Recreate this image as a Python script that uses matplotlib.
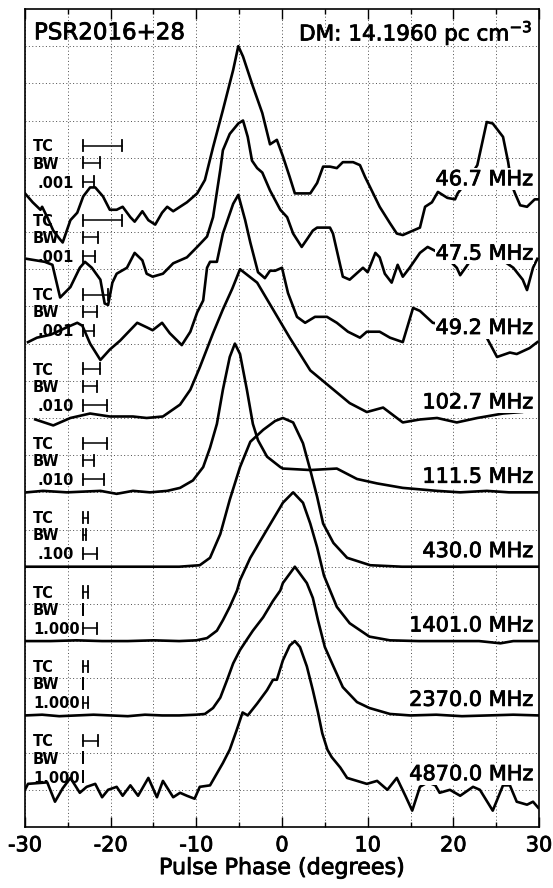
import numpy as np
import matplotlib
matplotlib.use("Agg")
import matplotlib.pyplot as plt
import matplotlib.patheffects as pe
from matplotlib.ticker import MultipleLocator

plt.rcParams['font.family'] = ['DejaVu Sans']
plt.rcParams['mathtext.fontset'] = 'dejavusans'
plt.rcParams['axes.unicode_minus'] = False

# ---- pulse profiles (phase in degrees, amplitude normalised to peak = 1) ----
phase_4870 = [-30, -29.65, -27.4, -26.5, -25.6, -24.7, -23.6, -22.8, -21.8, -21.0,
              -20.3, -19.3, -18.6, -17.7, -16.8, -15.6, -14.6, -13.9, -12.7, -11.9,
              -11.1, -10.2, -9.6, -8.4, -7.5, -6.9, -6.1, -5.3, -4.6, -4.0,
              -2.9, -1.75, -1.05, -0.6, 0.1, 0.9, 1.5, 2.1, 2.9, 3.6,
              4.2, 4.7, 5.3, 5.8, 6.8, 7.6, 8.75, 9.9, 11.1, 12.3,
              13.4, 14.4, 15.2, 16.1, 17.0, 17.9, 18.4, 19.6, 20.8, 22.3,
              23.1, 24.6, 25.8, 26.6, 27.4, 28.6, 29.3, 29.9]
amp_4870 = [0.0, 0.04, 0.05, -0.08, 0.01, 0.08, -0.02, 0.02, 0.04, -0.05,
            0.0, 0.02, -0.04, 0.03, -0.04, 0.08, -0.05, 0.06, -0.05, -0.02,
            -0.04, -0.06, 0.02, 0.03, 0.12, 0.18, 0.27, 0.40, 0.52, 0.50,
            0.58, 0.67, 0.74, 0.74, 0.87, 0.97, 1.0, 0.96, 0.83, 0.67,
            0.52, 0.38, 0.27, 0.22, 0.15, 0.08, 0.06, 0.04, 0.06, 0.0,
            0.08, -0.04, -0.14, 0.02, 0.05, 0.03, -0.02, 0.0, -0.04, 0.02,
            0.0, -0.14, 0.03, 0.03, -0.08, -0.10, -0.08, -0.12]

phase_2370 = [-30, -28, -26, -24, -22, -20, -18, -16, -14, -12,
              -10, -9, -8.05, -7.2, -6.4, -5.7, -4.9, -4.1, -3.4, -2.2,
              -1.05, -0.2, 0.1, 1.5, 2.9, 3.6, 4.2, 5.0, 6.0, 7.1,
              8.75, 10.2, 12.6, 15, 18, 21, 24, 27, 30]
amp_2370 = [0.0, 0.005, -0.005, 0.0, 0.005, 0.0, -0.005, 0.005, 0.0, 0.0,
            0.005, 0.01, 0.05, 0.12, 0.24, 0.35, 0.44, 0.51, 0.57, 0.66,
            0.77, 0.84, 0.89, 1.0, 0.89, 0.79, 0.64, 0.46, 0.33, 0.19,
            0.09, 0.05, 0.01, 0.0, 0.005, -0.005, 0.0, 0.005, 0.0]

phase_1401 = [-30, -27, -24, -21, -18, -15, -12, -10, -8.75, -7.6,
              -6.9, -6.1, -5.25, -4.9, -3.7, -1.75, -0.2, 0.1, 1.3, 2.45,
              3.3, 4.1, 4.9, 6.4, 7.9, 10.2, 12.6, 16, 20, 23,
              25.5, 27, 30]
amp_1401 = [0.0, 0.0, 0.005, 0.0, 0.0, 0.005, 0.0, 0.005, 0.02, 0.07,
            0.14, 0.23, 0.34, 0.41, 0.56, 0.75, 0.90, 0.93, 1.0, 0.93,
            0.79, 0.63, 0.44, 0.23, 0.12, 0.03, 0.005, 0.0, 0.0, 0.0,
            -0.015, 0.0, 0.0]

phase_430 = [-30, -25, -20, -15, -12, -9.6, -8.4, -7.2, -6.1, -4.9,
             -3.7, -2.2, -0.8, 0.1, 1.3, 2.45, 3.3, 4.1, 4.8, 6.0,
             7.6, 10.3, 14, 20, 25, 30]
amp_430 = [0.0, 0.0, 0.0, 0.0, 0.0, 0.01, 0.06, 0.22, 0.45, 0.67,
           0.84, 0.92, 0.98, 1.0, 0.97, 0.83, 0.65, 0.47, 0.29, 0.16,
           0.06, 0.01, 0.0, 0.0, 0.0, 0.0]

phase_111 = [-29.8, -27.9, -25.1, -21.2, -19.3, -17.4, -15.4, -13.4, -11.9, -10.4,
             -9.2, -8.4, -7.6, -6.9, -6.1, -5.5, -4.9, -4.1, -3.4, -2.8,
             -1.75, -0.2, 0.1, 3.3, 6.4, 8.75, 11.1, 14.1, 18.1, 20.8,
             23.9, 26.5, 29.8]
amp_111 = [0.0, 0.01, 0.0, 0.01, -0.01, 0.01, 0.0, 0.01, 0.03, 0.08,
           0.17, 0.30, 0.46, 0.69, 0.91, 1.0, 0.93, 0.69, 0.46, 0.35,
           0.24, 0.17, 0.16, 0.15, 0.16, 0.09, 0.06, 0.03, 0.01, 0.0,
           0.01, 0.0, 0.0]

phase_102 = [-28.8, -26.7, -24.7, -22.4, -20.1, -17.4, -15.8, -13.9, -11.9, -10.7,
             -9.6, -8.05, -6.9, -5.8, -4.9, -2.9, -1.05, 0.9, 3.3, 5.6,
             7.9, 9.9, 11.8, 14.1, 16.1, 18.1, 20.4, 22.8, 25.8, 28.0]
amp_102 = [-0.01, -0.05, 0.0, 0.03, 0.01, 0.01, 0.0, 0.01, 0.09, 0.19,
           0.34, 0.57, 0.73, 0.87, 1.0, 0.91, 0.73, 0.54, 0.32, 0.21,
           0.10, 0.04, 0.07, -0.03, -0.01, 0.0, -0.03, 0.0, 0.03, 0.04]

phase_49 = [-29.65, -28.6, -27.0, -25.1, -23.9, -23.3, -22.4, -21.2, -20.1, -18.9,
            -16.9, -15.8, -15.1, -14.0, -13.1, -11.7, -10.7, -9.9, -9.2, -8.75,
            -8.4, -7.6, -6.9, -5.7, -5.1, -4.3, -3.7, -2.8, -2.0, -1.4,
            -0.8, 0.0, 0.7, 1.75, 2.7, 3.85, 5.25, 6.4, 7.7, 9.1,
            9.9, 11.4, 12.6, 14.1, 15.3, 16.1, 17.6, 19.6, 21.9, 23.9,
            25.1, 26.6, 27.4, 28.9, 29.8]
amp_49 = [0.01, 0.04, 0.06, 0.11, 0.14, 0.12, 0.0, -0.11, -0.04, 0.02,
          0.14, 0.11, 0.09, 0.14, 0.07, -0.01, 0.08, 0.21, 0.29, 0.51,
          0.55, 0.55, 0.74, 0.94, 1.0, 0.83, 0.68, 0.48, 0.44, 0.49,
          0.49, 0.51, 0.34, 0.18, 0.14, 0.18, 0.18, 0.14, 0.08, 0.04,
          0.08, 0.08, 0.04, 0.01, 0.24, 0.22, 0.14, 0.12, 0.09, 0.04,
          -0.09, -0.06, -0.07, -0.03, 0.01]

phase_47 = [-29.8, -27.7, -26.8, -25.9, -24.7, -23.6, -23.0, -22.2, -21.2, -20.7,
            -20.3, -19.8, -19.3, -18.1, -17.2, -16.3, -15.8, -15.1, -13.9, -12.7,
            -11.1, -9.9, -8.75, -8.05, -7.2, -6.9, -6.1, -5.1, -4.55, -4.0,
            -3.5, -2.9, -2.3, -1.4, -0.2, 0.6, 1.3, 2.3, 2.9, 3.6,
            4.1, 4.8, 5.6, 5.95, 7.1, 7.9, 9.45, 10.0, 10.9, 11.4,
            12.0, 12.8, 13.5, 14.1, 14.9, 16.1, 17.0, 19.0, 20.4, 20.8,
            21.9, 24.3, 26.0, 27.0, 28.1, 28.6, 29.3, 29.8]
amp_47 = [0.07, 0.05, 0.03, -0.19, -0.12, 0.01, 0.05, 0.01, -0.07, -0.23,
          -0.24, -0.09, -0.03, 0.01, 0.11, 0.06, -0.03, -0.05, -0.03, 0.04,
          0.08, 0.15, 0.22, 0.35, 0.67, 0.80, 0.91, 0.98, 1.0, 0.89,
          0.73, 0.68, 0.65, 0.53, 0.40, 0.35, 0.24, 0.15, 0.20, 0.26,
          0.28, 0.28, 0.28, 0.24, -0.05, -0.07, 0.01, -0.02, 0.11, 0.08,
          -0.03, -0.09, 0.03, -0.05, 0.01, 0.11, 0.15, 0.09, 0.01, -0.04,
          0.05, 0.06, 0.05, 0.01, -0.07, -0.14, 0.01, 0.07]

phase_46 = [-30, -29.1, -28.2, -28.0, -27.4, -26.7, -25.9, -25.6, -24.7, -23.9,
            -23.2, -22.4, -21.8, -20.9, -20.1, -19.3, -18.6, -17.7, -17.2, -16.3,
            -15.6, -14.8, -14.0, -13.4, -12.7, -11.1, -9.9, -9.0, -8.05, -6.9,
            -5.7, -5.1, -4.55, -3.4, -2.3, -1.4, -0.6, 0.1, 0.9, 1.5,
            3.3, 4.1, 4.8, 5.6, 6.4, 7.1, 8.3, 9.1, 9.7, 10.3,
            11.4, 12.6, 13.4, 14.1, 14.9, 16.1, 16.7, 17.5, 18.2, 19.3,
            20.2, 20.5, 21.7, 22.8, 23.9, 24.6, 25.8, 26.4, 26.8, 27.2,
            27.8, 28.6, 29.5, 29.9]
amp_46 = [0.01, -0.05, -0.10, -0.08, -0.15, -0.24, -0.30, -0.32, -0.17, -0.12,
          -0.01, 0.05, 0.05, -0.01, -0.10, -0.10, -0.08, -0.15, -0.18, -0.11,
          -0.17, -0.20, -0.12, -0.08, -0.11, -0.05, 0.01, 0.10, 0.32, 0.57,
          0.84, 1.0, 0.93, 0.73, 0.55, 0.34, 0.37, 0.26, 0.12, 0.01,
          0.01, 0.08, 0.19, 0.19, 0.18, 0.22, 0.22, 0.20, 0.12, 0.05,
          -0.08, -0.19, -0.26, -0.27, -0.25, -0.22, -0.08, -0.05, 0.02, -0.02,
          -0.03, 0.01, 0.10, 0.20, 0.49, 0.48, 0.39, 0.22, 0.07, 0.01,
          -0.07, -0.08, -0.03, -0.03]

# bottom to top
freq_labels = ["4870.0 MHz", "2370.0 MHz", "1401.0 MHz", "430.0 MHz", "111.5 MHz",
               "102.7 MHz", "49.2 MHz", "47.5 MHz", "46.7 MHz"]
scale_labels = ["1.000", "1.000", "1.000", ".100", ".010", ".010", ".001", ".001", ".001"]
# smearing bars (degrees): time constant, bandwidth, sampling
tc_width = [1.75, 0.6, 0.6, 0.6, 2.8, 2.0, 2.9, 4.55, 4.55]
bw_width = [0.0, 0.0, 0.0, 0.3, 1.3, 1.6, 1.6, 1.75, 1.9]
samp_width = [0.0, 0.5, 1.6, 1.6, 2.4, 2.8, 1.2, 1.4, 1.3]

phases = [phase_4870, phase_2370, phase_1401, phase_430, phase_111,
          phase_102, phase_49, phase_47, phase_46]
amps = [amp_4870, amp_2370, amp_1401, amp_430, amp_111,
        amp_102, amp_49, amp_47, amp_46]

spacing = 0.5
base0 = 0.25
heavy = [pe.withStroke(linewidth=0.6, foreground='black')]

fig = plt.figure(figsize=(5.53, 8.88), dpi=100)
ax = fig.add_axes([0.0452, 0.0687, 0.9295, 0.9212])
ax.set_xlim(-30, 30)
ax.set_ylim(0, 5.5)

# dotted grid
ax.xaxis.set_major_locator(MultipleLocator(10))
ax.xaxis.set_minor_locator(MultipleLocator(5))
ax.set_yticks(np.arange(0.25, 5.5, 0.25))
grid_kw = dict(color='0.3', linestyle=(0, (1, 2.5)), linewidth=0.7)
ax.grid(True, which='both', axis='x', **grid_kw)
ax.grid(True, which='major', axis='y', **grid_kw)
ax.set_axisbelow(True)

ax.tick_params(axis='x', which='both', direction='in', top=True,
               labelsize=15, pad=6, width=1.0)
ax.tick_params(axis='x', which='major', length=7)
ax.tick_params(axis='x', which='minor', length=3.5)
ax.tick_params(axis='y', which='both', length=0, labelleft=False)
for s in ax.spines.values():
    s.set_linewidth(1.2)

x_bar = -23.2
cap = 0.037
for i, (ph, am) in enumerate(zip(phases, amps)):
    base = base0 + spacing * i
    ax.plot(ph, base + np.asarray(am), color='black', lw=1.9,
            solid_joinstyle='round', zorder=3)
    ax.text(29.3, base + 0.105, freq_labels[i], ha='right', va='center',
            fontsize=15, zorder=5, path_effects=heavy,
            bbox=dict(facecolor='white', edgecolor='none', pad=0.6))
    rows = [("TC", tc_width[i], 0.33, -29.07),
            ("BW", bw_width[i], 0.215, -29.07),
            (scale_labels[i], samp_width[i], 0.087,
             -29.07 if scale_labels[i].startswith("1") else -28.5)]
    for label, w, dy, xt in rows:
        y = base + dy
        ax.text(xt, y - 0.008, label, ha='left', va='center', fontsize=10.5,
                fontweight='bold', zorder=4)
        ax.plot([x_bar, x_bar + w], [y, y], color='black', lw=1.1, zorder=4)
        ax.plot([x_bar, x_bar], [y - cap, y + cap], color='black', lw=1.3, zorder=4)
        ax.plot([x_bar + w, x_bar + w], [y - cap, y + cap], color='black', lw=1.3, zorder=4)

ax.text(-28.95, 5.34, "PSR2016+28", ha='left', va='center', fontsize=16.5,
        path_effects=heavy)
ax.text(29.2, 5.34, r"DM: 14.1960 pc cm$^{-3}$", ha='right', va='center',
        fontsize=15.5, path_effects=heavy)
ax.set_xlabel("Pulse Phase (degrees)", fontsize=16, labelpad=2)
ax.xaxis.label.set_path_effects(heavy)
for lbl in ax.get_xticklabels():
    lbl.set_path_effects(heavy)

fig.savefig("out.png", dpi=100)
